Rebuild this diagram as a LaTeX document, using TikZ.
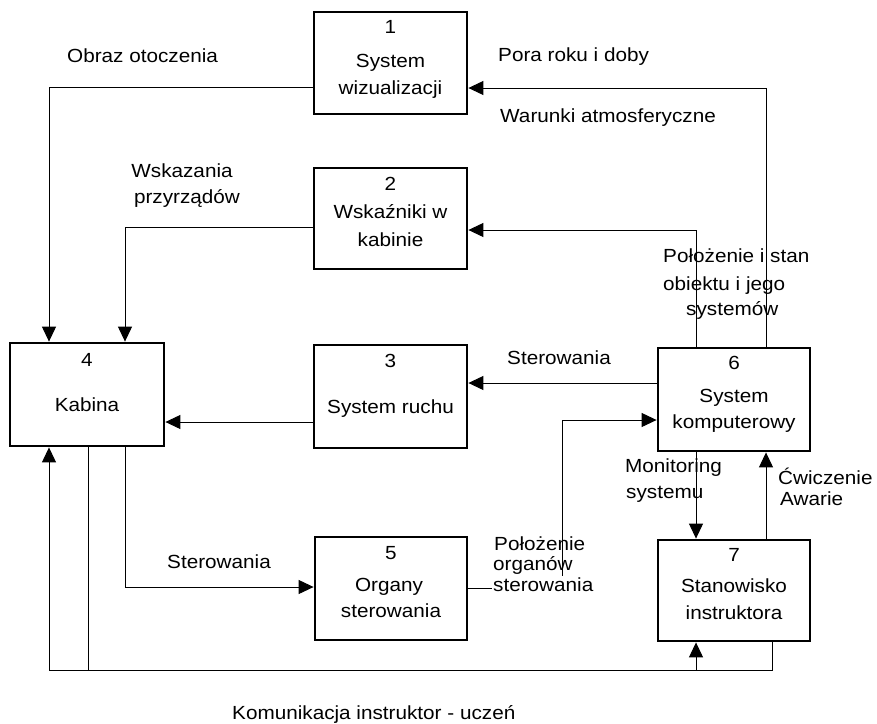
\documentclass[tikz,border=0pt]{standalone}
\usepackage{fontspec}
\setmainfont{Liberation Sans}[FakeStretch=1.09]
\usetikzlibrary{arrows.meta}
\begin{document}
\begin{tikzpicture}[x=1pt,y=-1pt,
  box/.style={draw,line width=2.8pt,rectangle,inner sep=0pt},
  conn/.style={line width=1pt},
  arr/.style={conn,-{Triangle[length=15pt,width=14pt]}},
  lbl/.style={inner sep=0pt,anchor=base west,font=\fontsize{19}{25}\selectfont},
  txt/.style={inner sep=0pt,anchor=base,font=\fontsize{19}{25}\selectfont}]
\useasboundingbox (0,0) rectangle (877,723);
% boxes
\node[box,minimum width=153pt,minimum height=102pt] (b1) at (390.5,63) {};
\node[box,minimum width=153pt,minimum height=101pt] (b2) at (390.5,218.5) {};
\node[box,minimum width=153pt,minimum height=103pt] (b3) at (390.5,396.5) {};
\node[box,minimum width=154pt,minimum height=103pt] (b4) at (87,394.5) {};
\node[box,minimum width=152pt,minimum height=103pt] (b5) at (391,588.5) {};
\node[box,minimum width=152pt,minimum height=103pt] (b6) at (734,399.5) {};
\node[box,minimum width=152pt,minimum height=101pt] (b7) at (734,590.5) {};
% box texts
\node[txt] (t1a) at (390.5,33) {1};
\node[txt] (t1b) at (390.5,67) {System};
\node[txt] (t1c) at (390.5,94) {wizualizacji};
\node[txt] (t2a) at (390.5,190) {2};
\node[txt] (t2b) at (390.5,218) {Wskaźniki w};
\node[txt] (t2c) at (390.5,246) {kabinie};
\node[txt] (t3a) at (390.5,367) {3};
\node[txt] (t3b) at (390.5,413) {System ruchu};
\node[txt] (t4a) at (87,366) {4};
\node[txt] (t4b) at (87,411) {Kabina};
\node[txt] (t5a) at (391,559) {5};
\node[txt] (t5b) at (389,591) {Organy};
\node[txt] (t5c) at (391,617) {sterowania};
\node[txt] (t6a) at (734,369) {6};
\node[txt] (t6b) at (734,402) {System};
\node[txt] (t6c) at (734,428) {komputerowy};
\node[txt] (t7a) at (734,561) {7};
\node[txt] (t7b) at (734,592) {Stanowisko};
\node[txt] (t7c) at (734,619) {instruktora};
% labels
\node[lbl] (l1) at (67,62) {Obraz otoczenia};
\node[txt] (l2a) at (182,177) {Wskazania};
\node[txt] (l2b) at (187,203) {przyrządów};
\node[lbl] (l3) at (498,61) {Pora roku i doby};
\node[lbl] (l4) at (500,122) {Warunki atmosferyczne};
\node[lbl] (l5a) at (663,262) {Położenie i stan};
\node[lbl] (l5b) at (663,290) {obiektu i jego};
\node[lbl] (l5c) at (686,315) {systemów};
\node[lbl] (l6) at (507,364) {Sterowania};
\node[lbl] (l7) at (167,568) {Sterowania};
\node[lbl] (l8a) at (494,550) {Położenie};
\node[lbl] (l8b) at (493,570) {organów};
\node[lbl] (l9a) at (625,472) {Monitoring};
\node[lbl] (l9b) at (626,498) {systemu};
\node[lbl] (l10a) at (778,484) {Ćwiczenie};
\node[lbl] (l10b) at (780,505) {Awarie};
\node[lbl] (l11) at (232,719) {Komunikacja instruktor - uczeń};
% helper coordinates
\coordinate (o1) at (49,87);
\coordinate (o2) at (125,227);
\coordinate (o3) at (766,88);
\coordinate (o4) at (696,230);
\coordinate (o5) at (0,383);
\coordinate (o6) at (562,588);
\coordinate (o7) at (562,420);
\coordinate (o8) at (0,422);
\coordinate (o9) at (125,587);
\coordinate (o10) at (88,670);
\coordinate (o11) at (696,670);
\coordinate (o12) at (772,670);
\coordinate (o13) at (49,670);
\coordinate (o14) at (696,0);
\coordinate (o15) at (766,0);
% connectors
\draw[arr] (b1.west |- o1) -| (b4.north -| o1);
\draw[arr] (b2.west |- o2) -| (b4.north -| o2);
\draw[arr] (b6.north -| o3) |- (b1.east |- o3);
\draw[arr] (b6.north -| o4) |- (b2.east |- o4);
\draw[arr] (b6.west |- o5) -- (b3.east |- o5);
\draw[arr] (b5.east |- o6) -- (o6) -- (o7) -- (b6.west |- o7);
\draw[arr] (b3.west |- o8) -- (b4.east |- o8);
\draw[arr] (b4.south -| o9) |- (b5.west |- o9);
\draw[arr] (b4.south -| o10) |- (o11) -- (b7.south -| o11);
\draw[arr] (b7.south -| o12) |- (o13) -- (b4.south -| o13);
\draw[arr] (b6.south -| o14) -- (b7.north -| o14);
\draw[arr] (b7.north -| o15) -- (b6.south -| o15);
% label over the line
\node[lbl,fill=white,inner sep=1pt] (l8c) at (492,591) {sterowania};
\end{tikzpicture}
\end{document}
